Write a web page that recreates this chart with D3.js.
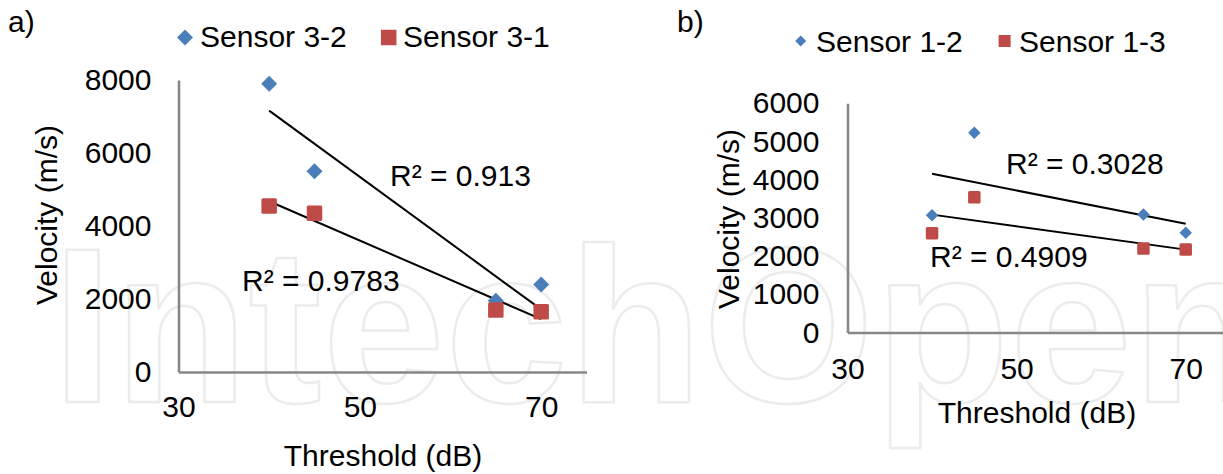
<!DOCTYPE html>
<html>
<head>
<meta charset="utf-8">
<script src="https://cdn.jsdelivr.net/npm/d3@7"></script>
<style>
  body { margin: 0; background: #fff; }
  svg text { font-family: "Liberation Sans", Arial, sans-serif; fill: #000; }
</style>
</head>
<body>
<script>
// data
var thresholds = [40, 45, 65, 70];
var sensor32 = [7900, 5500, 1950, 2400];
var sensor31 = [4550, 4350, 1700, 1650];
var sensor12 = [3070, 5230, 3090, 2610];
var sensor13 = [2600, 3540, 2200, 2170];
var xTicks = [30, 50, 70];
var yTicksA = [0, 2000, 4000, 6000, 8000];
var yTicksB = [0, 1000, 2000, 3000, 4000, 5000, 6000];
var r2A = ["R² = 0.913", "R² = 0.9783"];
var r2B = ["R² = 0.3028", "R² = 0.4909"];

var width = 1223,
	height = 474,
	blue = "#4a7ebb",
	red = "#be4b48",
	fontSize = 30;

var svg = d3.select("body").append("svg")
	.attr("width", width)
	.attr("height", height);

// faint watermark behind the charts
svg.append("text")
	.attr("x", 52)
	.attr("y", 402)
	.attr("textLength", 1215)
	.attr("lengthAdjust", "spacing")
	.style("font-size", "220px")
	.style("font-weight", "bold")
	.style("fill", "none")
	.style("stroke", "#ececec")
	.style("stroke-width", 2.5)
	.style("stroke-linejoin", "round")
	.text("IntechOpen");

// least squares fit, returns [slope, intercept]
function fit(xs, ys) {
	var mx = d3.mean(xs), my = d3.mean(ys);
	var sxy = d3.sum(xs, function(x, i) { return (x - mx) * (ys[i] - my); });
	var sxx = d3.sum(xs, function(x) { return (x - mx) * (x - mx); });
	var b = sxy / sxx;
	return [b, my - b * mx];
}

function drawPanel(p) {
	var x = d3.scaleLinear().domain([30, 75]).range(p.xRange);
	var y = d3.scaleLinear().domain([0, p.yMax]).range(p.yRange);
	var g = svg.append("g");

	// panel letter
	g.append("text").attr("x", p.letterX).attr("y", 32)
		.style("font-size", fontSize + "px").text(p.letter);

	// axes
	var yAxis = g.append("g")
		.attr("transform", "translate(" + p.xRange[0] + ",0)")
		.call(d3.axisLeft(y).tickValues(p.yTicks).tickSize(0).tickPadding(p.yPad).tickFormat(d3.format("d")));
	var xAxis = g.append("g")
		.attr("transform", "translate(0," + p.yRange[0] + ")")
		.call(d3.axisBottom(x).tickValues(xTicks).tickSize(0).tickPadding(p.xPad));
	[xAxis, yAxis].forEach(function(a) {
		a.select(".domain").attr("stroke", "#878787").attr("stroke-width", 2.6);
		a.selectAll("text").style("font-size", fontSize + "px")
			.style("font-family", "'Liberation Sans', Arial, sans-serif");
	});

	// axis titles
	g.append("text")
		.attr("text-anchor", "middle")
		.attr("x", p.xTitle[0]).attr("y", p.xTitle[1])
		.style("font-size", fontSize + "px")
		.text("Threshold (dB)");
	g.append("text")
		.attr("text-anchor", "middle")
		.attr("transform", "translate(" + p.yTitle[0] + "," + p.yTitle[1] + ") rotate(-90)")
		.attr("dy", "0.35em")
		.style("font-size", fontSize + "px")
		.text("Velocity (m/s)");

	// trend lines
	p.series.forEach(function(s) {
		var f = fit(thresholds, s.values);
		var x0 = d3.min(thresholds), x1 = d3.max(thresholds);
		g.append("line")
			.attr("x1", x(x0)).attr("y1", y(f[0] * x0 + f[1]))
			.attr("x2", x(x1)).attr("y2", y(f[0] * x1 + f[1]))
			.attr("stroke", "#000").attr("stroke-width", 2);
	});

	// markers
	var dia = p.series[0], sq = p.series[1];
	g.selectAll(".sq").data(sq.values).enter().append("rect")
		.attr("x", function(d, i) { return x(thresholds[i]) - p.sq / 2; })
		.attr("y", function(d) { return y(d) - p.sq / 2; })
		.attr("width", p.sq).attr("height", p.sq)
		.attr("rx", 1.5)
		.attr("fill", red);
	g.selectAll(".dia").data(dia.values).enter().append("rect")
		.attr("transform", function(d, i) {
			return "translate(" + x(thresholds[i]) + "," + y(d) + ") rotate(45)";
		})
		.attr("x", -p.dia / 2).attr("y", -p.dia / 2)
		.attr("width", p.dia).attr("height", p.dia)
		.attr("fill", blue);
	// squares drawn over the diamonds in panel a, as in the reference
	if (p.squaresOnTop) {
		g.selectAll("rect").filter(function() { return this.getAttribute("fill") === red; }).raise();
	}

	// R² labels
	p.r2.forEach(function(t, i) {
		g.append("text").attr("x", p.r2Pos[i][0]).attr("y", p.r2Pos[i][1])
			.style("font-size", fontSize + "px").text(t);
	});

	// legend
	var lg = g.append("g");
	lg.append("rect")
		.attr("transform", "translate(" + p.legend.dia[0] + "," + p.legend.dia[1] + ") rotate(45)")
		.attr("x", -p.legend.diaSize / 2).attr("y", -p.legend.diaSize / 2)
		.attr("width", p.legend.diaSize).attr("height", p.legend.diaSize)
		.attr("fill", blue);
	lg.append("text").attr("x", p.legend.text[0]).attr("y", p.legend.base)
		.style("font-size", fontSize + "px").text(dia.name);
	lg.append("rect")
		.attr("x", p.legend.sq[0] - p.legend.sqSize / 2).attr("y", p.legend.sq[1] - p.legend.sqSize / 2)
		.attr("width", p.legend.sqSize).attr("height", p.legend.sqSize)
		.attr("fill", red);
	lg.append("text").attr("x", p.legend.text[1]).attr("y", p.legend.base)
		.style("font-size", fontSize + "px").text(sq.name);
}

drawPanel({
	letter: "a)", letterX: 8,
	xRange: [178.5, 586.5], yRange: [372, 80], yMax: 8000,
	yTicks: yTicksA, yPad: 27, xPad: 24,
	xTitle: [383, 466], yTitle: [46, 215],
	series: [{ name: "Sensor 3-2", values: sensor32 }, { name: "Sensor 3-1", values: sensor31 }],
	dia: 11.3, sq: 15.5, squaresOnTop: true,
	r2: r2A, r2Pos: [[390, 186], [242, 291]],
	legend: { dia: [185, 37.5], diaSize: 11.3, sq: [388.7, 37.5], sqSize: 15.5,
		text: [200, 403], base: 47 }
});

drawPanel({
	letter: "b)", letterX: 677,
	xRange: [847.5, 1228], yRange: [332.5, 103.3], yMax: 6000,
	yTicks: yTicksB, yPad: 28, xPad: 25,
	xTitle: [1037, 423], yTitle: [728, 219],
	series: [{ name: "Sensor 1-2", values: sensor12 }, { name: "Sensor 1-3", values: sensor13 }],
	dia: 8.8, sq: 12.5, squaresOnTop: false,
	r2: r2B, r2Pos: [[1006, 174], [930, 267]],
	legend: { dia: [800.7, 41], diaSize: 7.8, sq: [1004.6, 41], sqSize: 12,
		text: [816, 1019], base: 51.5 }
});
</script>
</body>
</html>
